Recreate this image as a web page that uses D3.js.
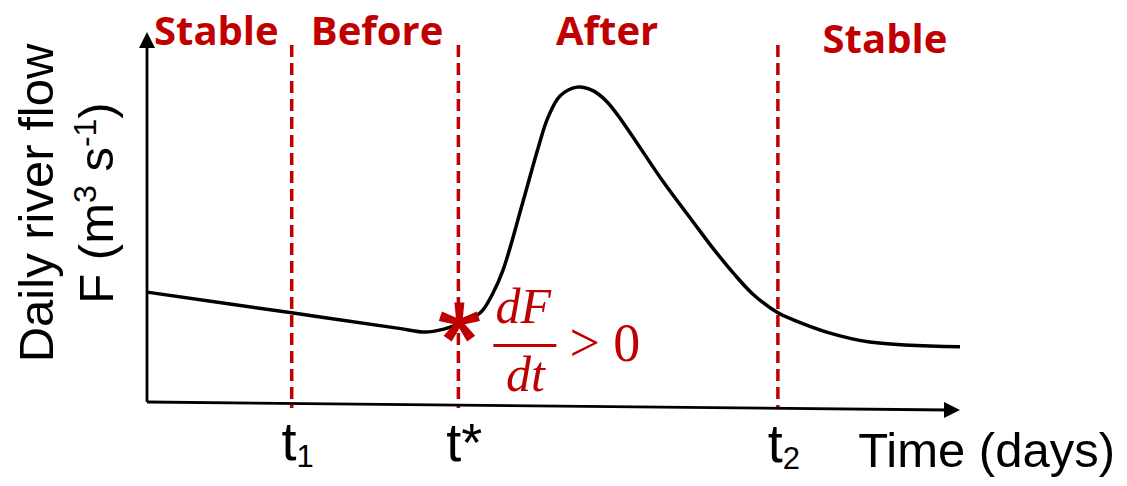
<!DOCTYPE html>
<html lang="en">
<head>
<meta charset="UTF-8">
<title>Daily river flow phases</title>
<script src="https://d3js.org/d3.v7.min.js"></script>
<style>
    body { margin: 0; background: #fff; }
    .phase { font-family: "Open Sans", sans-serif; font-weight: bold; font-size: 40px; fill: #c00000; }
    .axis-title { font-family: "Liberation Sans", Arial, sans-serif; font-size: 49px; fill: #000; }
    .tick-label { font-family: "Liberation Sans", Arial, sans-serif; font-size: 54px; fill: #000; }
    .math { font-family: "Liberation Serif", serif; fill: #c00000; }
</style>
</head>
<body>
<div id="chart"></div>
<script>
// hydrograph (time in arbitrary days, flow in arbitrary units)
const days = [0, 17.8, 31.0, 34.2, 36.5, 38.4, 41.0, 42.5, 43.8, 46.2, 48.1, 49.3, 50.8, 52.9,
              54.9, 56.6, 58.5, 63.5, 67.2, 69.6, 72.1, 74.5, 77.6, 79.5, 83.6, 88.9, 100];
const flow = [29.7, 24.1, 19.9, 18.9, 19.7, 21.1, 24.1, 29.2, 35.7, 53.8, 68.6, 76.8, 82.7, 85.1,
              84.1, 81.1, 75.7, 59.5, 48.6, 41.6, 34.9, 29.2, 24.1, 22.2, 18.9, 16.2, 14.9];

const phaseNames = ["Stable", "Before", "After", "Stable"];
const markerDays = [17.8, 38.3, 77.6];
const markerMain = ["t", "t*", "t"];
const markerSub = ["1", "", "2"];
const starFlow = 21.5;

const width = 1127, height = 486;
const red = "#c00000";

const svg = d3.select("#chart").append("svg")
    .attr("width", width)
    .attr("height", height);

const x = d3.scaleLinear().domain([0, 100]).range([147, 960]);
const y = d3.scaleLinear().domain([0, 100]).range([402, 32]);
const tilt = 8; // x axis drops a little to the right

// arrow heads
const defs = svg.append("defs");
defs.append("marker")
    .attr("id", "arrow")
    .attr("markerUnits", "userSpaceOnUse")
    .attr("markerWidth", 16).attr("markerHeight", 16)
    .attr("refX", 4).attr("refY", 8)
    .attr("orient", "auto")
    .append("path")
    .attr("d", "M0,0 L16,8 L0,16 Z")
    .attr("fill", "#000");

// dashed phase boundaries
svg.selectAll(".boundary")
    .data(markerDays)
    .enter()
    .append("line")
    .attr("class", "boundary")
    .attr("x1", d => x(d)).attr("x2", d => x(d))
    .attr("y1", y(96.5))
    .attr("y2", y(0) + 6)
    .attr("stroke", red)
    .attr("stroke-width", 3.5)
    .attr("stroke-dasharray", "12,6");

// axes
svg.append("line")
    .attr("x1", x(0)).attr("y1", y(0))
    .attr("x2", x(0)).attr("y2", y(100) + 12)
    .attr("stroke", "#000").attr("stroke-width", 2.8)
    .attr("marker-end", "url(#arrow)");

svg.append("line")
    .attr("x1", x(0)).attr("y1", y(0))
    .attr("x2", x(100) - 12).attr("y2", y(0) + tilt)
    .attr("stroke", "#000").attr("stroke-width", 2.8)
    .attr("marker-end", "url(#arrow)");

// flow curve
const line = d3.line()
    .x(d => x(d[0]))
    .y(d => y(d[1]))
    .curve(d3.curveCatmullRom.alpha(0.5));

svg.append("path")
    .datum(days.map((d, i) => [d, flow[i]]))
    .attr("d", line)
    .attr("fill", "none")
    .attr("stroke", "#000")
    .attr("stroke-width", 3.5)
    .attr("stroke-linejoin", "round");

// phase labels
const bounds = [0, ...markerDays, 100];
const labelNudge = [-3, 2, -11, 16];
const labelBase = [45, 45, 45, 53];
svg.selectAll(".phase")
    .data(phaseNames)
    .enter()
    .append("text")
    .attr("class", "phase")
    .attr("x", (d, i) => x((bounds[i] + bounds[i + 1]) / 2) + labelNudge[i])
    .attr("y", (d, i) => labelBase[i])
    .attr("text-anchor", "middle")
    .text(d => d);

// star at t*
const star = svg.append("g")
    .attr("transform", `translate(${x(markerDays[1]) + 1},${y(starFlow)})`);
[0, 72, 144, 216, 288].forEach(a => {
    star.append("path")
        .attr("d", "M-3,0 L3,0 L5,-20 L-5,-20 Z")
        .attr("transform", `rotate(${a})`)
        .attr("fill", red);
});

// dF/dt > 0
const fx = x(markerDays[1]) + 67, fy = y(starFlow);
svg.append("text").attr("class", "math")
    .attr("x", fx - 2).attr("y", fy + 1)
    .attr("text-anchor", "middle")
    .style("font-size", "50px").style("font-style", "italic")
    .text("dF");
svg.append("line")
    .attr("x1", fx - 32).attr("x2", fx + 31)
    .attr("y1", fy + 23).attr("y2", fy + 23)
    .attr("stroke", red).attr("stroke-width", 3);
svg.append("text").attr("class", "math")
    .attr("x", fx).attr("y", fy + 69)
    .attr("text-anchor", "middle")
    .style("font-size", "50px").style("font-style", "italic")
    .text("dt");
svg.append("text").attr("class", "math")
    .attr("x", fx + 44).attr("y", fy + 39)
    .style("font-size", "54px")
    .text("> 0");

// tick labels
const ticks = svg.selectAll(".tick-label")
    .data(markerDays)
    .enter()
    .append("text")
    .attr("class", "tick-label")
    .attr("x", d => x(d) + 6)
    .attr("y", (d, i) => y(0) + 58 + i)
    .attr("text-anchor", "middle");
ticks.append("tspan").text((d, i) => markerMain[i]);
ticks.append("tspan")
    .attr("dy", 7)
    .style("font-size", "31px")
    .text((d, i) => markerSub[i]);

svg.append("text")
    .attr("class", "axis-title")
    .attr("x", 1115).attr("y", 467)
    .attr("text-anchor", "end")
    .text("Time (days)");

// y axis title, two lines
svg.append("text")
    .attr("class", "axis-title")
    .attr("transform", "translate(53,203) rotate(-90)")
    .attr("text-anchor", "middle")
    .text("Daily river flow");

const yt = svg.append("text")
    .attr("class", "axis-title")
    .attr("transform", "translate(113,203) rotate(-90)")
    .attr("text-anchor", "middle");
yt.append("tspan").text("F (m");
yt.append("tspan").attr("dy", -17).style("font-size", "32px").text("3");
yt.append("tspan").attr("dy", 17).text(" s");
yt.append("tspan").attr("dy", -17).style("font-size", "32px").text("-1");
yt.append("tspan").attr("dy", 17).text(")");
</script>
</body>
</html>
